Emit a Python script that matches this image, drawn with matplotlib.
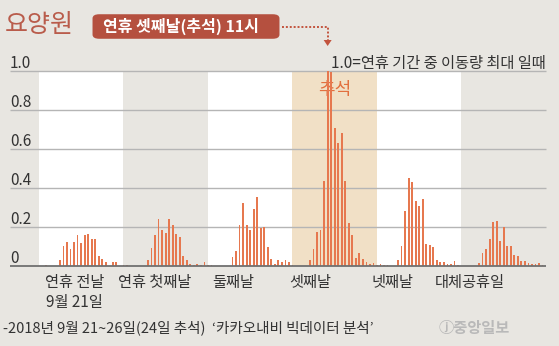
import numpy as np
import matplotlib
matplotlib.use('Agg')
import matplotlib.pyplot as plt
from matplotlib.patches import FancyBboxPatch, Polygon
from matplotlib.lines import Line2D
from matplotlib.transforms import blended_transform_factory

plt.rcParams['font.family'] = ['Noto Sans CJK KR', 'DejaVu Sans']

# 시간대별 이동량 (연휴 최대 = 1.0), 하루 24개
day1 = [0, 0.005, 0, 0, 0, 0.03, 0.10, 0.12, 0.085, 0.12, 0.155, 0.115,
        0.155, 0.16, 0.135, 0.135, 0.05, 0.035, 0.02, 0, 0.02, 0.02, 0, 0.005]
day2 = [0.005, 0, 0, 0, 0, 0, 0.03, 0.092, 0.154, 0.24, 0.18, 0.167,
        0.24, 0.21, 0.159, 0.144, 0.05, 0.03, 0.01, 0.005, 0.008, 0.005, 0.019, 0.005]
day3 = [0.005, 0, 0, 0, 0, 0, 0.045, 0.073, 0.21, 0.32, 0.21, 0.18,
        0.29, 0.353, 0.19, 0.197, 0.097, 0.032, 0.008, 0.03, 0.02, 0.03, 0.02, 0.005]
day4 = [0, 0, 0, 0, 0.026, 0.086, 0.17, 0.18, 0.435, 1.0, 0.99, 0.707,
        0.627, 0.678, 0.435, 0.216, 0.156, 0.04, 0.062, 0.033, 0.02, 0.01, 0.013, 0.005]
day5 = [0.01, 0.005, 0.005, 0, 0, 0.03, 0.10, 0.28, 0.45, 0.426, 0.33, 0.305,
        0.34, 0.112, 0.107, 0.093, 0.03, 0.02, 0.02, 0.01, 0.01, 0.022, 0.005, 0]
day6 = [0, 0, 0, 0, 0.013, 0.066, 0.083, 0.136, 0.225, 0.228, 0.126, 0.195,
        0.1, 0.1, 0.052, 0.049, 0.025, 0.025, 0.011, 0.006, 0.006, 0.011, 0.005, 0]

day_labels = ['연휴 전날', '연휴 첫째날', '둘째날', '셋째날', '넷째날', '대체공휴일']
yticks = [0, 0.2, 0.4, 0.6, 0.8, 1.0]
ytick_labels = ['0', '0.2', '0.4', '0.6', '0.8', '1.0']

values = np.array(day1 + day2 + day3 + day4 + day5 + day6)
hours = np.arange(len(values))

# 색
BG = '#e8e6e1'
TAN = '#f1e0c6'
BAR = '#e6784f'
RED = '#b5503f'
TITLE = '#b95c4b'
GRID = '#b5b5b5'
TXT = '#333333'
ARROW = '#c2533d'

W, H = 559, 346
fig = plt.figure(figsize=(W / 100, H / 100), dpi=100)
fig.patch.set_facecolor(BG)


def P(x, y):
    # 픽셀(왼쪽 위 기준) -> figure 좌표
    return x / W, 1 - y / H


ax = fig.add_axes([10 / W, (H - 265.5) / H, 536 / W, 195 / H])
ax.set_xlim(-8.2, 144)
ax.set_ylim(0, 1.0)
ax.axis('off')

# 날짜 배경
for d in range(6):
    if d in (0, 2, 4):
        ax.axvspan(24 * d, 24 * d + 24, color='white', zorder=0, lw=0)
    elif d == 3:
        ax.axvspan(24 * d, 24 * d + 24, color=TAN, zorder=0, lw=0)

ax.hlines(yticks[1:], -8.2, 144, color=GRID, lw=1.0, zorder=1, clip_on=False)
ax.text(84, 0.9, '추석', ha='center', va='center', fontsize=13,
        color='#e2703f', zorder=1.5)
ax.bar(hours + 1, values, width=0.5, color=BAR, zorder=2, lw=0)
ax.hlines(0, -8.2, 144, color='#707070', lw=1.3, zorder=3, clip_on=False)

for v, lab in zip(yticks, ytick_labels):
    ax.text(-8.2, v + 0.012, lab, ha='left', va='baseline', fontsize=11,
            color=TXT, zorder=4)

ax.text(144, 1.0 + 0.012, '1.0=연휴 기간 중 이동량 최대 일때', ha='right',
        va='baseline', fontsize=11, color=TXT)

# x축 라벨
label_x = [10.2, 33, 55.1, 77, 100.3, 122.4]
bt = blended_transform_factory(ax.transData, fig.transFigure)
for lx, lab in zip(label_x, day_labels):
    fig.text(lx, P(0, 282)[1], lab, transform=bt, ha='center', va='center',
             fontsize=11, color=TXT)
fig.text(label_x[0], P(0, 302)[1], '9월 21일', transform=bt, ha='center',
         va='center', fontsize=11, color=TXT)

# 제목
fig.text(*P(5, 25), '요양원', ha='left', va='center', fontsize=18, color=TITLE)
badge = FancyBboxPatch(P(97, 36), 178 / W, 19 / H,
                       boxstyle='round,pad=0.008,rounding_size=0.012',
                       transform=fig.transFigure, facecolor=RED, edgecolor='none')
fig.add_artist(badge)
fig.text(*P(181, 26.5), '연휴 셋째날(추석) 11시', ha='center', va='center',
         fontsize=11.5, fontweight='bold', color='white')

# 점선 화살표 (최대값 막대를 가리킴)
peak = hours[np.argmax(values)] + 1
px = fig.transFigure.inverted().transform(ax.transData.transform((peak, 0)))[0]
fy1, fy2 = P(0, 27)[1], P(0, 40)[1]
fig.add_artist(Line2D([P(282, 0)[0], px, px], [fy1, fy1, fy2],
                      transform=fig.transFigure, color=ARROW, lw=1.4,
                      ls=(0, (1, 1))))
tip = P(0, 46)[1]
fig.add_artist(Polygon([[px - 4 / W, fy2], [px + 4 / W, fy2], [px, tip]],
                       closed=True, transform=fig.transFigure,
                       facecolor=ARROW, edgecolor='none'))

# 출처
fig.text(*P(3, 328), '-2018년 9월 21~26일(24일 추석)  ‘카카오내비 빅데이터 분석’',
         ha='left', va='center', fontsize=10.5, color=TXT)
fig.text(*P(510, 328), 'ⓙ중앙일보', ha='right', va='center', fontsize=11,
         color='#b9b9b9', fontweight='bold')

fig.savefig('out.png', dpi=100, facecolor=BG)
